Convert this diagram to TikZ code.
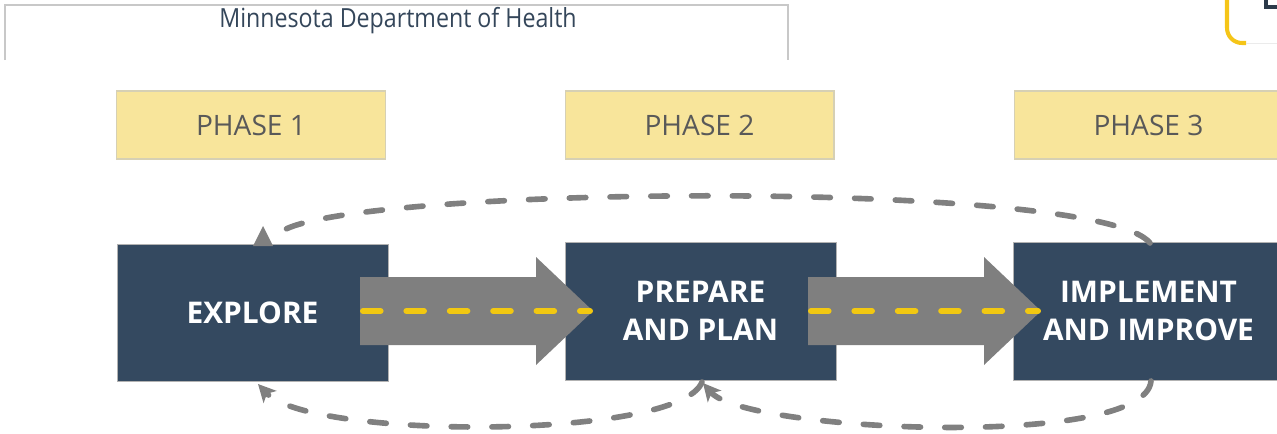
\documentclass[tikz,border=0pt]{standalone}
\usepackage{fontspec}
\setmainfont{Open Sans}
\usetikzlibrary{arrows.meta}
\definecolor{navy}{HTML}{344960}
\definecolor{phasefill}{HTML}{F8E59B}
\definecolor{phaseline}{HTML}{D6D0B4}
\definecolor{arrowgray}{HTML}{7F7F7F}
\definecolor{dashgray}{HTML}{808080}
\definecolor{roadyellow}{HTML}{F2C811}
\definecolor{headtext}{HTML}{34465A}
\definecolor{phasetext}{HTML}{595959}
\definecolor{framegray}{HTML}{C8C8C8}
\definecolor{logoyellow}{HTML}{F5C518}
\definecolor{logodark}{HTML}{2B3A4A}
\begin{document}
\begin{tikzpicture}[x=0.02cm,y=-0.02cm,
  phasebox/.style={draw=phaseline, line width=0.6pt, fill=phasefill, minimum width=5.38cm, minimum height=1.36cm, inner sep=0pt, font=\fontsize{16}{19}\selectfont, text=phasetext},
  stagebox/.style={draw=gray!60, line width=0.4pt, fill=navy, minimum width=5.42cm, minimum height=2.76cm, inner sep=0pt, font=\fontsize{17}{21.5}\selectfont\bfseries, text=white, align=center},
  bigarrow/.style={fill=arrowgray},
  road/.style={draw=roadyellow, line width=3.4pt, line cap=round, dash pattern=on 10pt off 14.7pt},
  loop/.style={draw=dashgray, line width=3.2pt, line cap=round, dash pattern=on 9.4pt off 13.8pt},
  looptip/.style={-{Stealth[length=10pt,width=10pt,inset=2.5pt]}}
]
\useasboundingbox (0,0) rectangle (1277,433);

% header frame
\draw[framegray, line width=0.6pt] (5,60) -- (5,5) -- (788,5) -- (788,60);
\node[font=\fontsize{15}{17}\selectfont, text=headtext] (mdh) at (398,21) {\scalebox{0.88}[1]{Minnesota Department of Health}};

% top-right logo fragment
\draw[logoyellow, line width=2.3pt] (1227,-2) -- (1227,28) to[out=-90,in=180] (1242,43) -- (1246,43);
\draw[black!8, line width=0.5pt] (1246,43) -- (1277,43);
\draw[logodark, line width=2pt] (1266,-2) -- (1266,7) -- (1279,7);

% phase headers
\node[phasebox] (p1) at (251,125) {PHASE 1};
\node[phasebox] (p2) at (699.5,125) {PHASE 2};
\node[phasebox] (p3) at (1148.5,125) {PHASE 3};

% stage boxes
\node[stagebox, minimum height=2.74cm] (explore) at (252.5,312.5) {EXPLORE};
\node[stagebox] (prepare) at (700.5,311) {PREPARE\\AND PLAN};
\node[stagebox] (implement) at (1148.5,311) {IMPLEMENT\\AND IMPROVE};

% big arrows
\coordinate (a1s) at (360,311);
\coordinate (a1e) at (593,311);
\coordinate (a2s) at (808,311);
\coordinate (a2e) at (1041,311);
\fill[bigarrow] (a1s) ++(0,-34) -- ++(176,0) -- ++(0,-20) -- (a1e) -- ++(-57,54) -- ++(0,-20) -- ++(-176,0) -- cycle;
\fill[bigarrow] (a2s) ++(0,-34) -- ++(176,0) -- ++(0,-20) -- (a2e) -- ++(-57,54) -- ++(0,-20) -- ++(-176,0) -- cycle;
\draw[road] ([xshift=0.06cm]a1s) -- ([xshift=-0.06cm]a1e);
\draw[road] ([xshift=0.06cm]a2s) -- ([xshift=-0.06cm]a2e);

% feedback loops
\coordinate (lt0) at (1150,243);
\coordinate (lt1) at (286,229);
\draw[loop] (lt0) .. controls (1100,180) and (380,185) .. (lt1);
\fill[dashgray] (253,246) -- (273,246) -- (263,226) -- cycle;

\coordinate (lb0) at (1151,381);
\coordinate (lb1) at (703,383);
\coordinate (lb2) at (702,382);
\coordinate (lb3) at (258,384);
\draw[loop, looptip] (lb0) .. controls (1145,450) and (745,432) .. (lb1);
\draw[loop, looptip] (lb2) .. controls (680,440) and (310,440) .. (lb3);
\end{tikzpicture}
\end{document}
